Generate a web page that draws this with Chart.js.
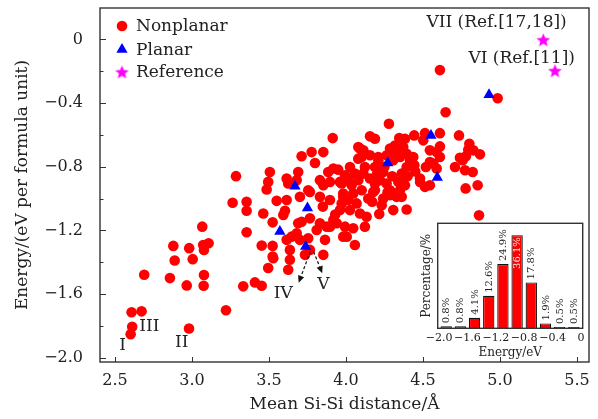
<!DOCTYPE html>
<html><head><meta charset="utf-8">
<script src="https://cdn.jsdelivr.net/npm/chart.js@4/dist/chart.umd.min.js"></script>
<style>
html,body{margin:0;padding:0;background:#fff;}
#wrap{position:relative;width:598px;height:419px;}
#main{position:absolute;left:0;top:0;}
#inset{position:absolute;left:405px;top:215px;}
</style></head><body>
<div id="wrap"><canvas id="main" width="598" height="419"></canvas><canvas id="inset" width="185" height="150"></canvas></div>
<script>
// ---------- data ----------
const nonplanar = [
[2.608,-1.714],[2.673,-1.708],[2.612,-1.805],[2.602,-1.851],[2.690,-1.478],[2.879,-1.297],[2.888,-1.389],[2.857,-1.499],
[2.982,-1.311],[3.005,-1.380],[2.966,-1.545],[2.981,-1.816],[3.067,-1.176],[3.073,-1.291],[3.078,-1.322],[3.108,-1.280],
[3.078,-1.480],[3.076,-1.547],[3.221,-1.701],
[3.264,-1.026],[3.355,-1.020],[3.355,-1.076],[3.463,-1.093],[3.355,-1.211],[3.524,-1.149],[3.453,-1.295],[3.333,-1.551],
[3.409,-1.526],[3.453,-1.547],[3.495,-1.436],[3.528,-1.374],[3.524,-1.297],
[3.286,-0.859],[3.506,-0.833],[3.495,-0.895],[3.485,-0.943],[3.690,-0.833],[3.615,-0.874],[3.625,-0.905],[3.680,-0.884],
[3.712,-0.734],[3.777,-0.708],[3.853,-0.708],[3.799,-0.776],[3.914,-0.620],[3.918,-0.811],[3.950,-0.818],[3.885,-0.833],
[3.831,-0.884],[3.853,-0.916],[3.896,-0.895],[3.972,-0.905],[3.994,-0.853],[4.015,-0.884],
[3.550,-1.014],[3.615,-1.009],[3.701,-0.989],[3.766,-0.958],[3.831,-0.989],[3.896,-1.009],[3.982,-0.989],
[3.604,-1.076],[3.593,-1.103],[3.712,-1.145],[3.766,-1.124],
[3.615,-1.259],[3.647,-1.239],[3.680,-1.218],[3.701,-1.259],[3.636,-1.322],[3.636,-1.384],[3.625,-1.447],[3.755,-1.249],
[3.766,-1.322],[3.864,-1.259],[3.853,-1.353],[3.810,-1.197],[3.831,-1.155],[3.875,-1.176],[3.918,-1.134],[3.961,-1.072],
[3.994,-1.009],[3.994,-1.176],[4.005,-1.239],[3.940,-1.155],
[3.524,-1.364],[3.734,-1.353],[3.690,-1.155],[3.896,-1.176],
[3.982,-0.968],[4.015,-1.009],[3.972,-1.030],[4.047,-0.968],[4.069,-1.030],[4.026,-1.072],[4.091,-1.093],[4.134,-1.114],
[4.123,-1.176],[4.047,-1.186],[3.982,-1.239],[4.058,-1.291],[4.232,-1.041],[4.216,-1.097],[4.307,-1.072],[4.394,-1.068],
[4.362,-0.989],[4.286,-0.978],[4.177,-0.958],[4.264,-0.905],[4.372,-0.905],[4.481,-0.895],[4.545,-0.916],[4.188,-0.905],
[4.610,-0.193],[4.985,-0.370],[4.647,-0.458],[4.279,-0.530],[4.156,-0.609],[4.188,-0.624],[4.513,-0.589],[4.610,-0.589],
[4.443,-0.603],[4.346,-0.620],[4.383,-0.624],[4.734,-0.603],[4.801,-0.655],[4.827,-0.697],[4.870,-0.722],[4.779,-0.734],
[4.758,-0.759],[4.708,-0.801],[4.773,-0.822],[4.823,-0.833],[4.855,-0.916],[4.777,-0.936],[4.610,-0.672],[4.589,-0.708],
[4.610,-0.739],[4.567,-0.780],[4.589,-0.811],[4.519,-0.801],[4.481,-0.874],[4.513,-0.926],[4.437,-0.739],[4.444,-0.791],
[4.372,-0.676],[4.286,-0.686],[4.329,-0.718],[4.307,-0.759],[4.210,-0.739],[4.156,-0.728],[4.188,-0.801],[4.123,-0.801],
[4.080,-0.676],[4.102,-0.739],[4.026,-0.801],[4.058,-0.843],[3.755,-0.947],[3.961,-0.895],[4.502,-0.634],[4.545,-0.697],
[4.545,-0.770],[4.318,-0.666],[4.307,-0.708],[4.351,-0.739],[4.394,-0.718],[4.416,-0.759],[4.394,-0.801],[4.362,-0.843],
[4.340,-0.895],[4.383,-0.916],[4.286,-0.947],[4.351,-0.947],[4.329,-0.989],[4.264,-0.728],[4.210,-0.759],[4.113,-0.697],
[4.080,-0.749],[4.091,-0.686],[4.005,-0.864],[4.113,-0.843],[4.156,-0.874],[4.242,-0.833],[4.221,-0.884],[4.080,-0.884],
[4.037,-0.916],[4.102,-0.947],[4.188,-0.947],[4.145,-0.999],[4.242,-0.999],[4.864,-1.105],[4.740,-0.743],[4.794,-0.693],
[4.25,-0.80],[4.30,-0.86],[4.40,-0.86],[4.20,-0.85],[4.45,-0.83],[4.27,-0.96],[3.93,-1.10],[3.85,-1.05],[4.17,-1.02]
];
const planar = [[4.929,-0.347],[4.552,-0.603],[4.271,-0.776],[4.593,-0.868],[3.669,-0.922],[3.750,-1.059],[3.571,-1.207],[3.738,-1.301]];
const reference = [[5.281,-0.003],[5.357,-0.197]];
const seriesNames = ['Nonplanar','Planar','Reference'];

const xTicks = [2.5,3.0,3.5,4.0,4.5,5.0,5.5];
const yTicks = [-2.0,-1.8,-1.6,-1.4,-1.2,-1.0,-0.8,-0.6,-0.4,-0.2,0];

const annTexts = ['I','II','III','IV','V','VII (Ref.[17,18])','VI (Ref.[11])'];
const annPos = [[2.550,-1.926],[2.933,-1.905],[2.723,-1.801],[3.593,-1.597],[3.853,-1.541],[4.978,0.105],[5.141,-0.118]];
const arrows = [[[3.768,-1.333],[3.693,-1.528]],[[3.790,-1.333],[3.846,-1.468]]];

const histCenters = [-1.9,-1.7,-1.5,-1.3,-1.1,-0.9,-0.7,-0.5,-0.3,-0.1];
const histPct = [0.8,0.8,4.1,12.6,24.9,36.1,17.8,1.9,0.5,0.5];
const insetXTicks = [-2.0,-1.6,-1.2,-0.8,-0.4,0];

// ---------- helpers ----------
const SERIF = "'DejaVu Serif', serif";
const TXT = '#222';
const fmt = v => Math.abs(v) < 1e-9 ? '0' : (v < 0 ? '\u2212' : '') + Math.abs(v).toFixed(1);
function makeStar(r, color){
  const s = Math.ceil(r*2+2), c = document.createElement('canvas');
  c.width = s; c.height = s;
  const g = c.getContext('2d'); g.fillStyle = color; g.beginPath();
  for (let i=0;i<10;i++){
    const rr = i%2 ? r*0.45 : r, a = -Math.PI/2 + i*Math.PI/5;
    const px = s/2 + rr*Math.cos(a), py = s/2 + 0.6 + rr*Math.sin(a);
    i ? g.lineTo(px,py) : g.moveTo(px,py);
  }
  g.closePath(); g.fill(); return c;
}
const starImg = makeStar(7.2, '#ff00ff');
const toXY = a => a.map(p => ({x:p[0], y:p[1]}));
const noPad = s => { s.paddingTop = 0; s.paddingBottom = 0; s.paddingLeft = 0; s.paddingRight = 0; };

const mainPlugin = {
  id:'mainDeco',
  afterDraw(chart){
    const {ctx, chartArea:a, scales:{x, y}} = chart;
    ctx.save();
    ctx.strokeStyle = '#333'; ctx.lineWidth = 1;
    xTicks.forEach(v => { const px = Math.round(x.getPixelForValue(v))+0.5; ctx.beginPath(); ctx.moveTo(px, a.bottom); ctx.lineTo(px, a.bottom-5); ctx.stroke(); });
    yTicks.forEach(v => { const py = Math.round(y.getPixelForValue(v))+0.5; const major = Math.round(v*10)%4===0; ctx.beginPath(); ctx.moveTo(a.left, py); ctx.lineTo(a.left+(major?6:3.5), py); ctx.stroke(); });
    ctx.lineWidth = 1.4; ctx.strokeStyle = '#333';
    ctx.strokeRect(a.left, a.top, a.right-a.left, a.bottom-a.top);
    // legend
    ctx.font = '17px ' + SERIF; ctx.textBaseline = 'middle'; ctx.textAlign = 'left';
    const lx = a.left + 22, ly = [a.top+18, a.top+41.5, a.top+64];
    ctx.fillStyle = '#ff0000'; ctx.beginPath(); ctx.arc(lx, ly[0], 5.3, 0, Math.PI*2); ctx.fill();
    ctx.fillStyle = '#0000ff'; ctx.beginPath();
    const r = 6.5;
    ctx.moveTo(lx, ly[1]-r); ctx.lineTo(lx + r*0.866, ly[1]+r*0.5); ctx.lineTo(lx - r*0.866, ly[1]+r*0.5); ctx.closePath(); ctx.fill();
    ctx.drawImage(starImg, lx - starImg.width/2, ly[2] - starImg.height/2);
    ctx.fillStyle = TXT;
    seriesNames.forEach((n,i) => ctx.fillText(n, lx + 14, ly[i]+1));
    // annotations
    ctx.textAlign = 'center';
    annTexts.forEach((t,i) => ctx.fillText(t, x.getPixelForValue(annPos[i][0]), y.getPixelForValue(annPos[i][1])));
    // arrows
    ctx.strokeStyle = '#111'; ctx.fillStyle = '#111'; ctx.lineWidth = 1.2;
    arrows.forEach(([s,e]) => {
      const x0 = x.getPixelForValue(s[0]), y0 = y.getPixelForValue(s[1]);
      const x1 = x.getPixelForValue(e[0]), y1 = y.getPixelForValue(e[1]);
      const ang = Math.atan2(y1-y0, x1-x0), hl = 7, hw = 3.2;
      const bx = x1 - hl*Math.cos(ang), by = y1 - hl*Math.sin(ang);
      ctx.setLineDash([3,2.2]); ctx.beginPath(); ctx.moveTo(x0,y0); ctx.lineTo(bx,by); ctx.stroke(); ctx.setLineDash([]);
      ctx.beginPath(); ctx.moveTo(x1,y1);
      ctx.lineTo(bx + hw*Math.sin(ang), by - hw*Math.cos(ang));
      ctx.lineTo(bx - hw*Math.sin(ang), by + hw*Math.cos(ang)); ctx.closePath(); ctx.fill();
    });
    ctx.restore();
  }
};

new Chart(document.getElementById('main'), {
  type:'scatter',
  data:{ datasets:[
    {label:seriesNames[0], data:toXY(nonplanar), backgroundColor:'#ff0000', borderWidth:0, pointRadius:5.3, pointStyle:'circle', order:2},
    {label:seriesNames[1], data:toXY(planar), backgroundColor:'#0000ff', borderWidth:0, pointRadius:6.5, pointStyle:'triangle', order:1},
    {label:seriesNames[2], data:toXY(reference), pointStyle:starImg, pointRadius:7, order:0}
  ]},
  options:{
    responsive:false, animation:false, devicePixelRatio:1,
    layout:{padding:{left:0, top:7, right:9, bottom:0}},
    plugins:{legend:{display:false}, tooltip:{enabled:false}},
    scales:{
      x:{type:'linear', min:2.403, max:5.578, bounds:'data',
         afterBuildTicks: s => { s.ticks = xTicks.map(v => ({value:v})); },
         afterFit: s => { s.height = 57; noPad(s); },
         grid:{display:false, drawTicks:false}, border:{display:false},
         ticks:{autoSkip:false, maxRotation:0, padding:9, color:TXT, font:{family:SERIF, size:16}, callback: v => fmt(v)},
         title:{display:true, text:'Mean Si-Si distance/\u00C5', color:TXT, font:{family:SERIF, size:17}, padding:{top:0, bottom:4}}},
      y:{type:'linear', min:-2.026, max:0.197, bounds:'data',
         afterBuildTicks: s => { s.ticks = yTicks.map(v => ({value:v})); },
         afterFit: s => { s.width = 100; noPad(s); },
         grid:{display:false, drawTicks:false}, border:{display:false},
         ticks:{autoSkip:false, padding:17, color:TXT, font:{family:SERIF, size:16}, callback: v => (Math.round(v*10)%4===0 ? fmt(v) : '')},
         title:{display:true, text:'Energy/(eV per formula unit)', color:TXT, font:{family:SERIF, size:17}, padding:{top:12, bottom:0}}}
    }
  },
  plugins:[mainPlugin]
});

// ---------- inset ----------
const insetPlugin = {
  id:'insetDeco',
  beforeDraw(chart){
    const {ctx, chartArea:a} = chart;
    ctx.save(); ctx.fillStyle = '#fff'; ctx.fillRect(a.left, a.top, a.right-a.left, a.bottom-a.top); ctx.restore();
  },
  afterDraw(chart){
    const {ctx, chartArea:a} = chart;
    ctx.save();
    const meta = chart.getDatasetMeta(0);
    const maxIdx = histPct.indexOf(Math.max(...histPct));
    ctx.font = '10px ' + SERIF; ctx.textBaseline = 'middle';
    meta.data.forEach((el, i) => {
      ctx.save(); ctx.translate(el.x + 0.5, el.y); ctx.rotate(-Math.PI/2);
      const t = histPct[i].toFixed(1) + '%';
      if (i === maxIdx) { ctx.fillStyle = '#ffe4e4'; ctx.textAlign = 'right'; ctx.fillText(t, -2, 0); }
      else { ctx.fillStyle = TXT; ctx.textAlign = 'left'; ctx.fillText(t, 3, 0); }
      ctx.restore();
    });
    ctx.lineWidth = 1.4; ctx.strokeStyle = '#333';
    ctx.strokeRect(a.left, a.top, a.right-a.left, a.bottom-a.top);
    ctx.restore();
  }
};

new Chart(document.getElementById('inset'), {
  type:'bar',
  data:{ datasets:[{ data: histCenters.map((c,i) => ({x:c, y:histPct[i]})), backgroundColor:'#ff0000', borderColor:'#111', borderWidth:1.2, barPercentage:0.8, categoryPercentage:1.0 }]},
  options:{
    responsive:false, animation:false, devicePixelRatio:1,
    layout:{padding:{left:0, top:8.3, right:7.3, bottom:0}},
    plugins:{legend:{display:false}, tooltip:{enabled:false}},
    scales:{
      x:{type:'linear', min:-2.02, max:0.025, bounds:'data', offset:false,
         afterBuildTicks: s => { s.ticks = insetXTicks.map(v => ({value:v})); },
         afterFit: s => { s.height = 36.7; noPad(s); },
         grid:{display:false, drawTicks:false}, border:{display:false},
         ticks:{autoSkip:false, maxRotation:0, padding:3, color:TXT, font:{family:SERIF, size:11}, callback: v => fmt(v)},
         title:{display:true, text:'Energy/eV', color:TXT, font:{family:SERIF, size:12}, padding:{top:0, bottom:5}}},
      y:{type:'linear', min:0, max:40.7,
         afterFit: s => { s.width = 32.7; noPad(s); },
         grid:{display:false, drawTicks:false}, border:{display:false},
         ticks:{display:false},
         title:{display:true, text:'Percentage/%', color:TXT, font:{family:SERIF, size:12}, padding:{top:14.5, bottom:0}}}
    }
  },
  plugins:[insetPlugin]
});
</script>
</body></html>
